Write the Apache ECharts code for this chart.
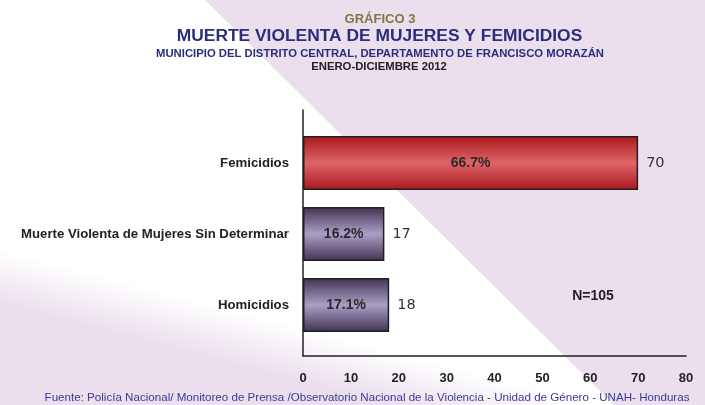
<!DOCTYPE html>
<html>
<head>
<meta charset="utf-8">
<script src="https://cdn.jsdelivr.net/npm/echarts@6/dist/echarts.min.js"></script>
<style>html,body{margin:0;padding:0;background:#fff}#c{width:705px;height:405px}</style>
</head>
<body>
<div id="c"></div>
<script>
const categories = ['Femicidios', 'Muerte Violenta de Mujeres Sin Determinar', 'Homicidios'];
const counts = [70, 17, 18];
const percents = ['66.7%', '16.2%', '17.1%'];
const xTicks = [0, 10, 20, 30, 40, 50, 60, 70, 80];

const FONT = '"Liberation Sans", Arial, sans-serif';
const chart = echarts.init(document.getElementById('c'), null, {renderer: 'canvas'});

const redGrad = new echarts.graphic.LinearGradient(0, 0, 0, 1, [
  {offset: 0, color: '#a9181e'}, {offset: 0.5, color: '#df6468'}, {offset: 1, color: '#a9181e'}
]);
const purpleGrad = new echarts.graphic.LinearGradient(0, 0, 0, 1, [
  {offset: 0, color: '#3f3250'}, {offset: 0.5, color: '#ab9fc8'}, {offset: 1, color: '#3f3250'}
]);

const option = {
  backgroundColor: '#ebdfed',
  animation: false,
  graphic: [
    {type: 'polygon', z: -10, silent: true,
     shape: {points: [[0, 0], [205, 0], [614, 405], [0, 405]]},
     style: {fill: new echarts.graphic.LinearGradient(150, 342, 163, 292, [
       {offset: 0, color: '#ebdfed'}, {offset: 1, color: '#ffffff'}], true)}},
    {type: 'text', x: 380, y: 19.5, style: {text: 'GRÁFICO 3', font: 'bold 13px ' + FONT, fill: '#7d7845', align: 'center', verticalAlign: 'middle'}},
    {type: 'text', x: 379.5, y: 36.5, style: {text: 'MUERTE VIOLENTA DE MUJERES Y FEMICIDIOS', font: 'bold 17.4px ' + FONT, fill: '#2b2e7c', align: 'center', verticalAlign: 'middle'}},
    {type: 'text', x: 380, y: 53.5, style: {text: 'MUNICIPIO DEL DISTRITO CENTRAL, DEPARTAMENTO DE FRANCISCO MORAZÁN', font: 'bold 11.3px ' + FONT, fill: '#2b2e7c', align: 'center', verticalAlign: 'middle'}},
    {type: 'text', x: 379, y: 67, style: {text: 'ENERO-DICIEMBRE 2012', font: 'bold 11.3px ' + FONT, fill: '#222', align: 'center', verticalAlign: 'middle'}},
    {type: 'text', x: 593, y: 296, style: {text: 'N=105', font: 'bold 14px ' + FONT, fill: '#222', align: 'center', verticalAlign: 'middle'}},
    {type: 'text', x: 367, y: 398, style: {text: 'Fuente: Policía Nacional/ Monitoreo de Prensa /Observatorio Nacional de la Violencia - Unidad de Género - UNAH- Honduras', font: '11.6px ' + FONT, fill: '#3b3b98', align: 'center', verticalAlign: 'middle'}}
  ],
  grid: [
    {left: 303, right: 19, top: 110, bottom: 49, containLabel: false},
    {left: 303, right: 19, top: 127.5, bottom: 64.5, containLabel: false}
  ],
  xAxis: [
    {type: 'value', gridIndex: 0, min: 0, max: 80, interval: 10,
     axisLine: {show: true, lineStyle: {color: '#222', width: 1.5}},
     axisTick: {show: false}, splitLine: {show: false},
     axisLabel: {margin: 16, fontFamily: FONT, fontWeight: 'bold', fontSize: 13, color: '#222',
       formatter: v => xTicks.includes(v) ? String(v) : ''}},
    {type: 'value', gridIndex: 1, min: 0, max: 80, show: false}
  ],
  yAxis: [
    {type: 'category', gridIndex: 0, data: [''], axisLine: {show: true, onZero: false, lineStyle: {color: '#222', width: 1.5}},
     axisTick: {show: false}, axisLabel: {show: false}},
    {type: 'category', gridIndex: 1, data: categories, inverse: true,
     axisLine: {show: false}, axisTick: {show: false},
     axisLabel: {margin: 14, fontFamily: FONT, fontWeight: 'bold', fontSize: 13.2, color: '#222'}}
  ],
  series: [
    {type: 'bar', xAxisIndex: 1, yAxisIndex: 1, barCategoryGap: '24%',
     data: counts.map((v, i) => ({value: v, itemStyle: {color: i === 0 ? redGrad : purpleGrad}})),
     itemStyle: {borderColor: '#231f20', borderWidth: 1.5},
     label: {show: true, position: 'inside', formatter: p => percents[p.dataIndex],
       fontFamily: FONT, fontWeight: 'bold', fontSize: 14, color: '#2a2a2a'}},
    {type: 'bar', xAxisIndex: 1, yAxisIndex: 1, barCategoryGap: '24%', barGap: '-100%', silent: true,
     data: counts, itemStyle: {color: 'rgba(0,0,0,0)'},
     label: {show: true, position: 'right', distance: 8, formatter: p => String(p.value),
       fontFamily: '"DejaVu Sans", sans-serif', fontSize: 14.5, color: '#333'}}
  ]
};
chart.setOption(option);
</script>
</body>
</html>
